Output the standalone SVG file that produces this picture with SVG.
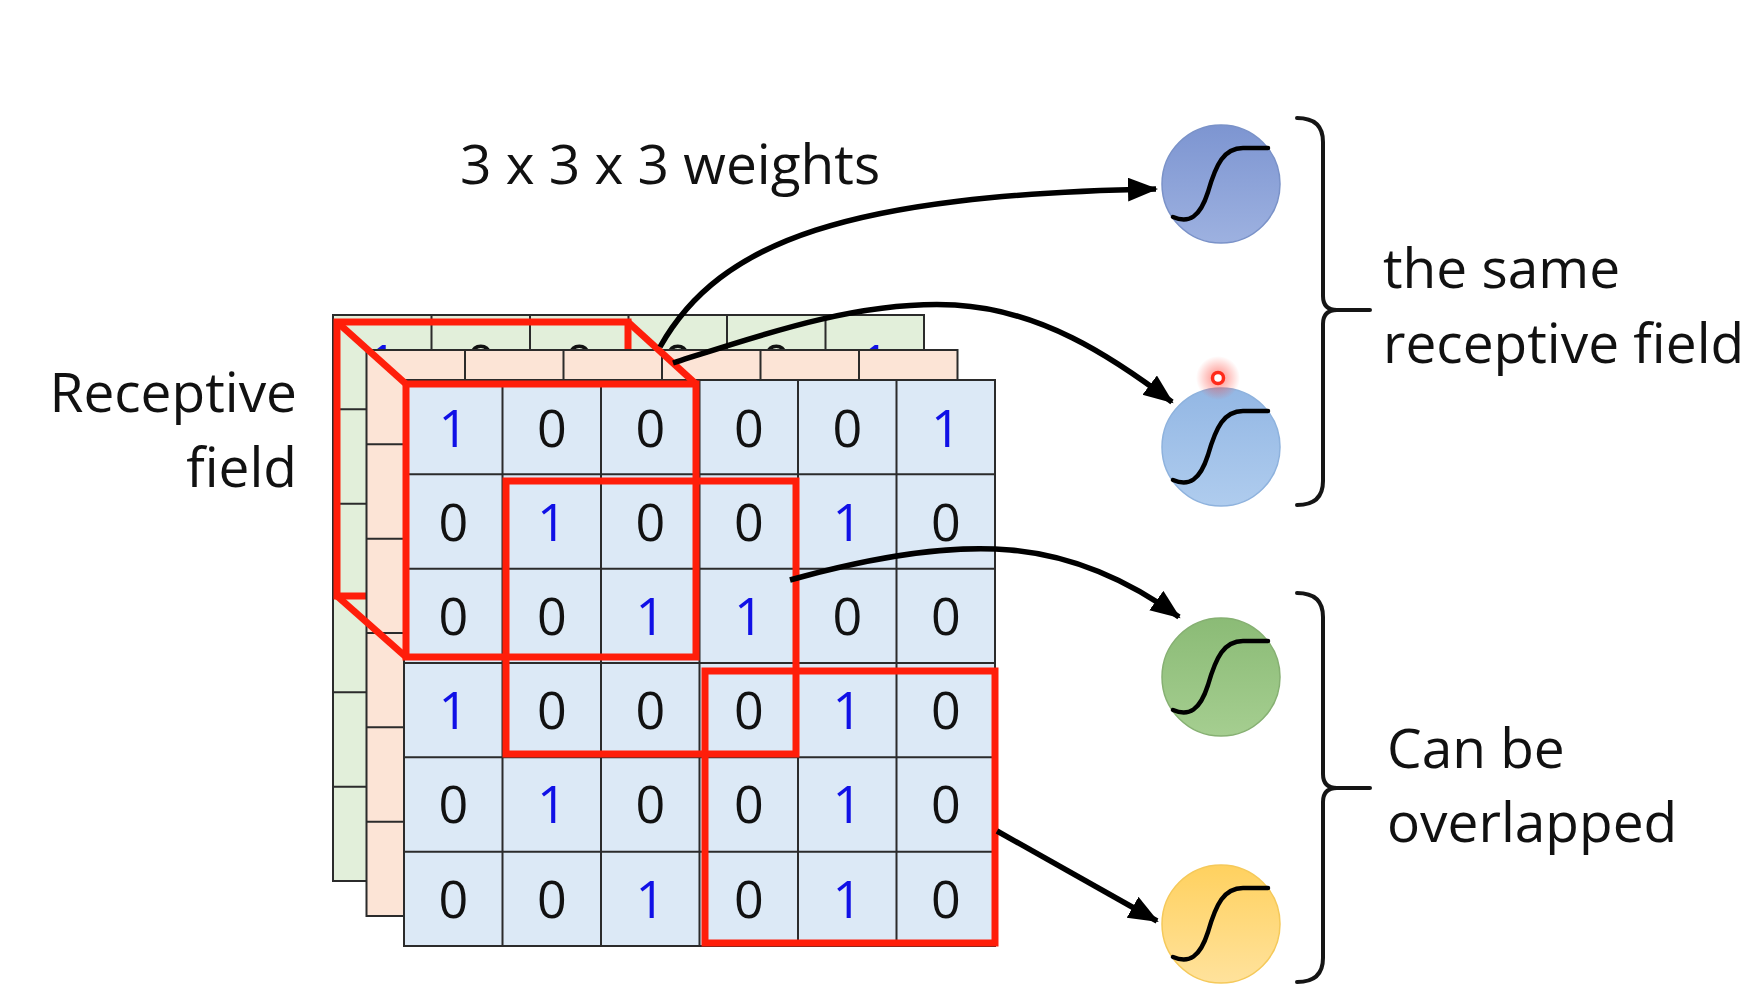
<svg xmlns="http://www.w3.org/2000/svg" xmlns:xlink="http://www.w3.org/1999/xlink" width="1760" height="997" viewBox="0 0 1760 997">
<style>
  .txt { font-family: "Open Sans", "Noto Sans", "Liberation Sans", sans-serif; fill: #111; }
  .lbl { font-size: 55px; }
  .d { font-family: "Open Sans", "Noto Sans", "Liberation Sans", sans-serif; font-size: 52px; text-anchor: middle; }
  .d0 { fill: #111; }
  .d1 { fill: #1010E6; }
  .gl { stroke: #2b2b2b; stroke-width: 2; fill: none; }
  .red { stroke: #FF1E0A; stroke-width: 7; fill: none; stroke-linejoin: miter; }
  .conn { stroke: #000; stroke-width: 5.5; fill: none; marker-end: url(#ah); }
  .brace { stroke: #151515; stroke-width: 4; fill: none; stroke-linecap: round; }
  .sig { stroke: #000; stroke-width: 4.5; fill: none; stroke-linecap: round; }
</style>
<defs>
  <marker id="ah" markerUnits="userSpaceOnUse" markerWidth="32" markerHeight="26" refX="28" refY="12" orient="auto">
    <path d="M0,0 L30,12 L0,24 z" fill="#000"/>
  </marker>
  <g id="grid">
    <line class="gl" x1="98.5" y1="0" x2="98.5" y2="566"/>
    <line class="gl" x1="197" y1="0" x2="197" y2="566"/>
    <line class="gl" x1="295.5" y1="0" x2="295.5" y2="566"/>
    <line class="gl" x1="394" y1="0" x2="394" y2="566"/>
    <line class="gl" x1="492.5" y1="0" x2="492.5" y2="566"/>
    <line class="gl" x1="0" y1="94.33" x2="591" y2="94.33"/>
    <line class="gl" x1="0" y1="188.67" x2="591" y2="188.67"/>
    <line class="gl" x1="0" y1="283" x2="591" y2="283"/>
    <line class="gl" x1="0" y1="377.33" x2="591" y2="377.33"/>
    <line class="gl" x1="0" y1="471.67" x2="591" y2="471.67"/>
    <rect class="gl" x="0" y="0" width="591" height="566"/>
    <text class="d d1" x="49.25" y="66.5">1</text><text class="d d0" x="147.75" y="66.5">0</text><text class="d d0" x="246.25" y="66.5">0</text><text class="d d0" x="344.75" y="66.5">0</text><text class="d d0" x="443.25" y="66.5">0</text><text class="d d1" x="541.75" y="66.5">1</text>
    <text class="d d0" x="49.25" y="160.5">0</text><text class="d d1" x="147.75" y="160.5">1</text><text class="d d0" x="246.25" y="160.5">0</text><text class="d d0" x="344.75" y="160.5">0</text><text class="d d1" x="443.25" y="160.5">1</text><text class="d d0" x="541.75" y="160.5">0</text>
    <text class="d d0" x="49.25" y="254.8">0</text><text class="d d0" x="147.75" y="254.8">0</text><text class="d d1" x="246.25" y="254.8">1</text><text class="d d1" x="344.75" y="254.8">1</text><text class="d d0" x="443.25" y="254.8">0</text><text class="d d0" x="541.75" y="254.8">0</text>
    <text class="d d1" x="49.25" y="349.1">1</text><text class="d d0" x="147.75" y="349.1">0</text><text class="d d0" x="246.25" y="349.1">0</text><text class="d d0" x="344.75" y="349.1">0</text><text class="d d1" x="443.25" y="349.1">1</text><text class="d d0" x="541.75" y="349.1">0</text>
    <text class="d d0" x="49.25" y="443.4">0</text><text class="d d1" x="147.75" y="443.4">1</text><text class="d d0" x="246.25" y="443.4">0</text><text class="d d0" x="344.75" y="443.4">0</text><text class="d d1" x="443.25" y="443.4">1</text><text class="d d0" x="541.75" y="443.4">0</text>
    <text class="d d0" x="49.25" y="537.7">0</text><text class="d d0" x="147.75" y="537.7">0</text><text class="d d1" x="246.25" y="537.7">1</text><text class="d d0" x="344.75" y="537.7">0</text><text class="d d1" x="443.25" y="537.7">1</text><text class="d d0" x="541.75" y="537.7">0</text>
  </g>
  <path id="sigmoid" d="M-48,33 C-32,40 -21,33 -13,8 C-5,-20 3,-36 22,-36 L47,-36"/>
  <linearGradient id="gBlue" x1="0" y1="0" x2="0" y2="1">
    <stop offset="0" stop-color="#7D95D1"/><stop offset="1" stop-color="#9DB1E0"/>
  </linearGradient>
  <linearGradient id="gLight" x1="0" y1="0" x2="0" y2="1">
    <stop offset="0" stop-color="#93B7E4"/><stop offset="1" stop-color="#AFCCEE"/>
  </linearGradient>
  <linearGradient id="gGreen" x1="0" y1="0" x2="0" y2="1">
    <stop offset="0" stop-color="#8BBB76"/><stop offset="1" stop-color="#A5CE90"/>
  </linearGradient>
  <linearGradient id="gYellow" x1="0" y1="0" x2="0" y2="1">
    <stop offset="0" stop-color="#FFD15F"/><stop offset="1" stop-color="#FFE29C"/>
  </linearGradient>
  <radialGradient id="glow">
    <stop offset="0" stop-color="#FF3B30" stop-opacity="0.6"/>
    <stop offset="0.5" stop-color="#FF3B30" stop-opacity="0.3"/>
    <stop offset="1" stop-color="#FF3B30" stop-opacity="0"/>
  </radialGradient>
</defs>
<rect width="1760" height="997" fill="#ffffff"/>

<g id="layer-green">
  <rect x="333" y="315" width="591" height="566" fill="#E2EFDA"/>
  <use xlink:href="#grid" x="333" y="315"/>
  <rect class="red" x="337" y="322" width="291" height="274"/>
</g>
<g id="layer-orange">
  <rect x="366.5" y="350" width="591" height="566" fill="#FCE4D6"/>
  <use xlink:href="#grid" x="366.5" y="350"/>
</g>
<g id="layer-front">
  <rect x="404" y="380" width="591" height="566" fill="#DCE9F6"/>
  <use xlink:href="#grid" x="404" y="380"/>
</g>
<g id="receptive-fields">
  <rect class="red" x="406" y="384" width="290" height="273"/>
  <rect class="red" x="506" y="481" width="290" height="273"/>
  <rect class="red" x="705" y="671" width="290" height="272"/>
  <line class="red" x1="337" y1="322" x2="406" y2="384"/>
  <line class="red" x1="628" y1="322" x2="696" y2="384"/>
  <line class="red" x1="337" y1="596" x2="406" y2="657"/>
</g>

<g id="neuron-1">
  <circle cx="1221" cy="184" r="59" fill="url(#gBlue)" stroke="#7A92C8" stroke-width="1.5"/>
  <use xlink:href="#sigmoid" x="1221" y="184" class="sig"/>
</g>
<g id="neuron-2">
  <circle cx="1221" cy="447" r="59" fill="url(#gLight)" stroke="#8EB2DD" stroke-width="1.5"/>
  <use xlink:href="#sigmoid" x="1221" y="447" class="sig"/>
  <circle cx="1218" cy="378" r="22" fill="url(#glow)"/>
  <circle cx="1218" cy="378" r="5.5" fill="#ffffff" stroke="#FF2A1A" stroke-width="3.5"/>
</g>
<g id="neuron-3">
  <circle cx="1221" cy="677" r="59" fill="url(#gGreen)" stroke="#86B072" stroke-width="1.5"/>
  <use xlink:href="#sigmoid" x="1221" y="677" class="sig"/>
</g>
<g id="neuron-4">
  <circle cx="1221" cy="924" r="59" fill="url(#gYellow)" stroke="#F5C95A" stroke-width="1.5"/>
  <use xlink:href="#sigmoid" x="1221" y="924" class="sig"/>
</g>

<g id="brace-same">
  <path class="brace" d="M1297,118 Q1323,118 1323,142 L1323,296 Q1323,310 1337,310 L1370,310 M1337,310 Q1323,310 1323,324 L1323,481 Q1323,505 1297,505"/>
</g>
<g id="brace-overlap">
  <path class="brace" d="M1297,593 Q1323,593 1323,617 L1323,774 Q1323,788 1337,788 L1370,788 M1337,788 Q1323,788 1323,802 L1323,958 Q1323,982 1297,982"/>
</g>

<g id="connectors">
  <path class="conn" d="M660,347 C720,240 850,195 1156,189"/>
  <path class="conn" d="M673,363 C760,335 860,300 955,305 C1040,310 1110,355 1172,402"/>
  <path class="conn" d="M790,580 C880,555 950,545 1010,550 C1080,556 1135,585 1179,617"/>
  <path class="conn" d="M997,831 L1157,921"/>
</g>

<g id="labels">
  <text class="txt lbl" x="460" y="184">3 x 3 x 3 weights</text>
  <text class="txt lbl" x="297" y="412" text-anchor="end">Receptive</text>
  <text class="txt lbl" x="297" y="487" text-anchor="end">field</text>
  <text class="txt lbl" x="1383" y="288">the same</text>
  <text class="txt lbl" x="1383" y="363">receptive field</text>
  <text class="txt lbl" x="1387" y="768">Can be</text>
  <text class="txt lbl" x="1387" y="842">overlapped</text>
</g>
</svg>
